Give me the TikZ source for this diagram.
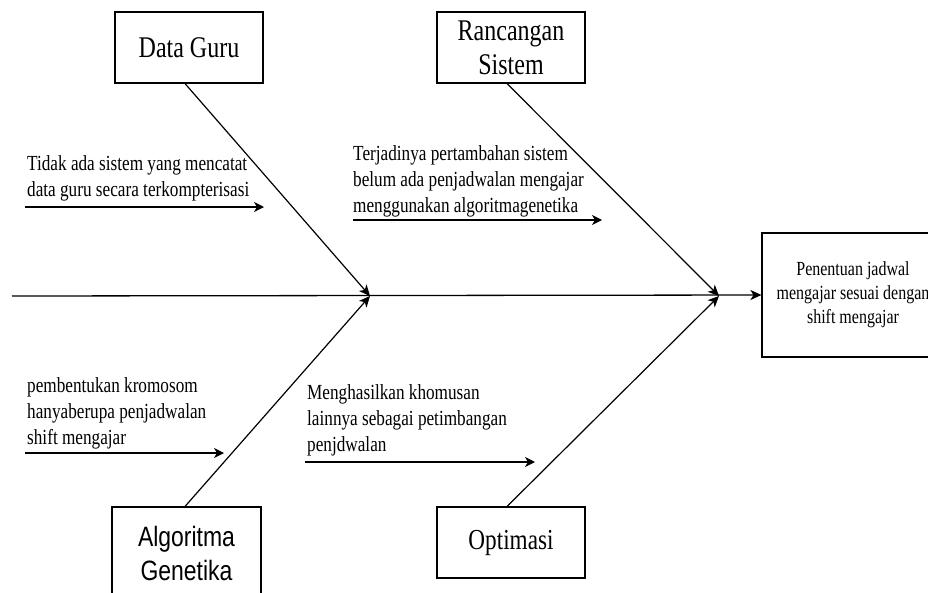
\documentclass[tikz,border=0pt]{standalone}
\usepackage{fontspec}
\setmainfont{Liberation Serif}[FakeStretch=0.8]
\newfontfamily\agfont{Liberation Sans}[FakeStretch=0.82]
\usetikzlibrary{arrows.meta}
\begin{document}
\begin{tikzpicture}[x=1pt,y=-1pt,
  box/.style={draw,line width=1.1pt,rectangle,inner sep=0pt,align=center},
  bone/.style={line width=1.2pt,-{Stealth[length=11pt,width=10pt,inset=3pt]}},
  cause/.style={line width=1.2pt,-{Stealth[length=10pt,width=10pt,inset=3pt]}},
  note/.style={inner sep=0pt,align=left,anchor=west,font=\fontsize{21.5}{26}\selectfont},
]
\useasboundingbox (0,0) rectangle (928,592);
\clip (0,0) rectangle (928,592);
\fill[white] (0,0) rectangle (928,592);

% category boxes
\node[box,minimum width=148pt,minimum height=71pt,font=\fontsize{30}{34}\selectfont] (dg) at (189,47.5) {Data Guru};
\node[box,minimum width=148pt,minimum height=71pt,font=\fontsize{30}{34}\selectfont] (rs) at (511,47.5) {Rancangan\\Sistem};
\node[box,minimum width=149pt,minimum height=92pt,font=\agfont\fontsize{28}{34}\selectfont] (ag) at (186.5,553) {Algoritma\\Genetika};
\node[box,minimum width=148pt,minimum height=71pt,font=\fontsize{29}{34}\selectfont] (op) at (511,542.5) {Optimasi};
\node[box,minimum width=182pt,minimum height=124pt,font=\fontsize{20}{24}\selectfont] (eff) at (853,295) {Penentuan jadwal\\mengajar sesuai dengan\\shift mengajar};

% spine
\coordinate (tail) at (12,296);
\coordinate (j1) at (370,296);
\coordinate (j2) at (719,296);
\draw[line width=1.3pt,-{Stealth[length=11pt,width=10pt,inset=3pt]}] (tail) -- (eff.west);

% bones
\draw[bone] ([xshift=-4pt]dg.south) -- (j1);
\draw[bone] ([xshift=-4pt]rs.south) -- (j2);
\draw[bone] ([xshift=-1.5pt]ag.north) -- (j1);
\draw[bone] ([xshift=-4pt]op.north) -- (j2);

% cause arrows
\coordinate (c1s) at (25,207);  \coordinate (c1e) at (264,207);
\coordinate (c2s) at (353,220); \coordinate (c2e) at (602,220);
\coordinate (c3s) at (25,453);  \coordinate (c3e) at (224,453);
\coordinate (c4s) at (305,462); \coordinate (c4e) at (535,462);
\draw[cause] (c1s) -- (c1e);
\draw[cause] (c2s) -- (c2e);
\draw[cause] (c3s) -- (c3e);
\draw[cause] (c4s) -- (c4e);

% notes
\node[note] (n1) at (27,178.5) {Tidak ada sistem yang mencatat\\data guru secara terkompterisasi};
\node[note] (n2) at (353,181) {Terjadinya pertambahan sistem\\belum ada penjadwalan mengajar\\menggunakan algoritmagenetika};
\node[note] (n3) at (27,413) {pembentukan kromosom\\hanyaberupa penjadwalan\\shift mengajar};
\node[note] (n4) at (307,420.5) {Menghasilkan khomusan\\lainnya sebagai petimbangan\\penjdwalan};
\end{tikzpicture}
\end{document}
